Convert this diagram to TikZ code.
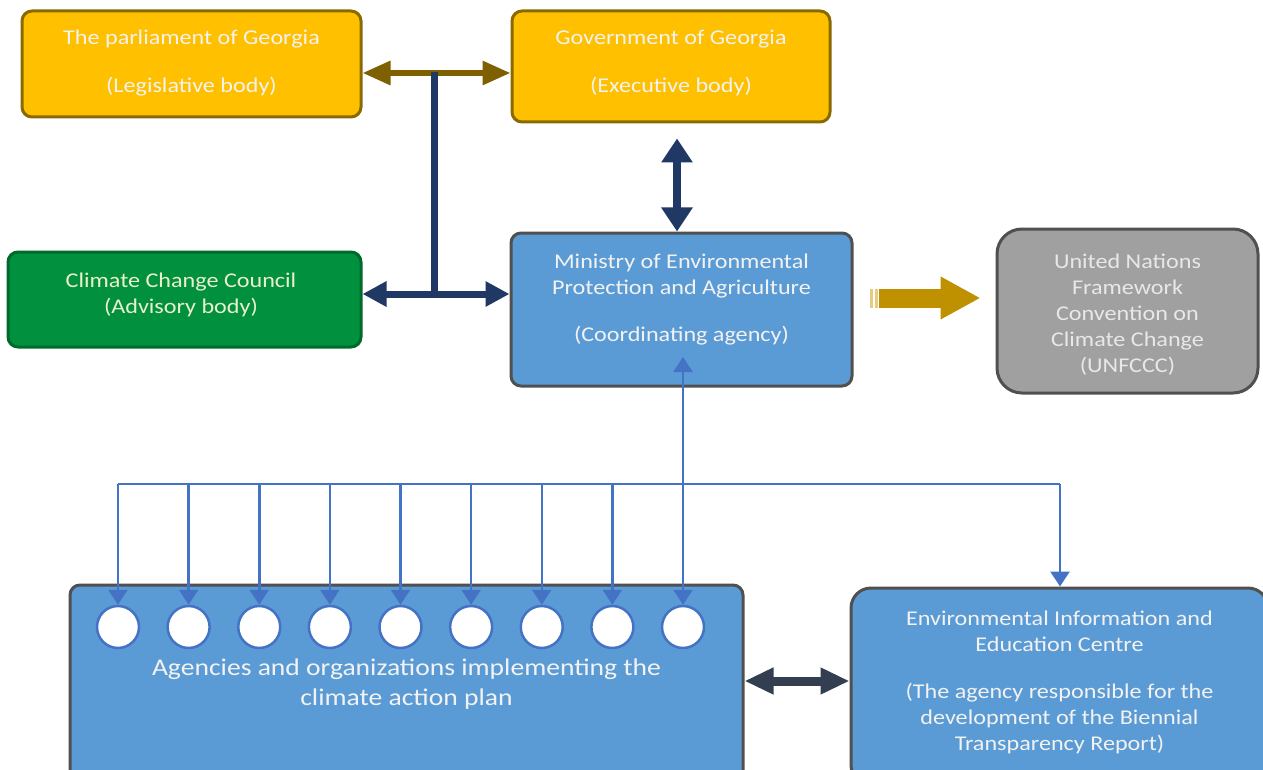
\documentclass[tikz,border=0pt]{standalone}
\usepackage{fontspec}
\setmainfont[FakeStretch=1.15]{Carlito}
\usetikzlibrary{arrows.meta,shapes.geometric}
\definecolor{ybg}{HTML}{FFC000}
\definecolor{ybd}{HTML}{8A6A00}
\definecolor{gbg}{HTML}{00903E}
\definecolor{gbd}{HTML}{006A2C}
\definecolor{bbg}{HTML}{5B9BD5}
\definecolor{bbd}{HTML}{505050}
\definecolor{grbg}{HTML}{A0A0A0}
\definecolor{brownc}{HTML}{7F6000}
\definecolor{navyc}{HTML}{203864}
\definecolor{linec}{HTML}{4472C4}
\definecolor{darkc}{HTML}{333F50}
\definecolor{goldc}{HTML}{BF9000}
\definecolor{goldl}{HTML}{E6CC80}
\definecolor{txtw}{HTML}{F2F2F2}
\definecolor{txtg}{HTML}{EAF0C8}
\definecolor{txtgr}{HTML}{E8E8E8}
\begin{document}
\begin{tikzpicture}[x=1pt,y=-1pt,
  boxbase/.style={rounded corners=10pt, line width=3pt, inner sep=0pt},
  yellowbox/.style={boxbase, fill=ybg, draw=ybd},
  greenbox/.style={boxbase, fill=gbg, draw=gbd},
  bluebox/.style={boxbase, fill=bbg, draw=bbd},
  graybox/.style={boxbase, rounded corners=25pt, fill=grbg, draw=bbd},
  txt/.style={align=center, inner sep=0pt, text=txtw, font=\fontsize{21}{26}\selectfont},
  bigtxt/.style={txt, font=\fontsize{24}{30}\selectfont},
  circ/.style={circle, minimum size=42pt, inner sep=0pt, fill=white, draw=linec, line width=2.5pt},
  brownarr/.style={draw=brownc, line width=6pt, {Triangle[length=28pt,width=23pt]}-{Triangle[length=28pt,width=23pt]}},
  navyline/.style={draw=navyc, line width=7pt},
  navyarr/.style={draw=navyc, line width=7pt, {Triangle[length=24pt,width=24pt]}-{Triangle[length=24pt,width=24pt]}},
  vnavyarr/.style={draw=navyc, line width=8pt, {Triangle[length=24pt,width=30pt]}-{Triangle[length=24pt,width=30pt]}},
  darkarr/.style={draw=darkc, line width=9pt, {Triangle[length=29pt,width=25pt]}-{Triangle[length=29pt,width=25pt]}},
  blueline/.style={draw=linec, line width=2.5pt},
  bluearr/.style={blueline, -{Triangle[length=15pt,width=19pt]}},
  goldarr/.style={draw=goldc, line width=19pt, -{Triangle[length=40pt,width=40pt]}}
]
\clip (0,0) rectangle (1263,770);
\fill[white] (0,0) rectangle (1263,770);

% boxes
\node[yellowbox, minimum width=339pt, minimum height=106pt] (parl) at (191.5,64) {};
\node[yellowbox, minimum width=318pt, minimum height=111pt] (gov) at (671,66.5) {};
\node[greenbox, minimum width=353pt, minimum height=95pt] (ccc) at (184.5,299.5) {};
\node[bluebox, minimum width=341pt, minimum height=153pt] (min) at (681.5,309.5) {};
\node[graybox, minimum width=261pt, minimum height=164pt] (un) at (1127.5,311) {};
\node[bluebox, minimum width=673pt, minimum height=200pt] (ag) at (406.5,685) {};
\node[bluebox, rounded corners=20pt, minimum width=417pt, minimum height=197pt] (eiec) at (1059.5,686.5) {};

% texts
\node[txt] (parl-t) at (191.5,63) {The parliament of Georgia\\[22pt](Legislative body)};
\node[txt] (gov-t) at (671,63) {Government of Georgia\\[22pt](Executive body)};
\node[txt, text=txtg] (ccc-t) at (181,295) {Climate Change Council\\(Advisory body)};
\node[txt] (min-t) at (681.5,299.5) {Ministry of Environmental\\Protection and Agriculture\\[21pt](Coordinating agency)};
\node[txt, text=txtgr] (un-t) at (1127.5,315) {United Nations\\Framework\\Convention on\\Climate Change\\(UNFCCC)};
\node[bigtxt] (ag-t) at (406.5,684) {Agencies and organizations implementing the\\climate action plan};
\node[txt] (eiec-t) at (1059.5,682) {Environmental Information and\\Education Centre\\[21pt](The agency responsible for the\\development of the Biennial\\Transparency Report)};

% circles
\foreach \i in {1,...,9} {
  \node[circ] (c\i) at ({118+(\i-1)*70.625},627) {};
  \coordinate (bus\i) at ({118+(\i-1)*70.625},484);
}

% top connectors
\draw[brownarr] ([yshift=-9pt]parl.east) -- ([yshift=-6.5pt]gov.west);
\coordinate (tTop) at (434,72);
\coordinate (tJoin) at (434,294);
\draw[navyline] (tTop) -- (tJoin);
\draw[navyarr] ([yshift=5.5pt]ccc.east) -- ([yshift=15.5pt]min.west);
\draw[vnavyarr] ([xshift=6pt,yshift=-15pt]gov.south) -- ([xshift=-4.5pt]min.north);

% gold arrow
\fill[goldl] ([xshift=16pt,yshift=2pt]min.east) rectangle ([xshift=19pt,yshift=21pt]min.east);
\fill[goldl] ([xshift=21pt,yshift=2pt]min.east) rectangle ([xshift=24pt,yshift=21pt]min.east);
\draw[goldarr] ([xshift=25pt,yshift=11.5pt]min.east) -- ([xshift=-15pt,yshift=13pt]un.west);

% blue distribution
\coordinate (busR) at (1060,484);
\coordinate (minTip) at (683,357);
\draw[blueline] (bus1) -- (busR);
\draw[bluearr] (bus9) -- (minTip);
\foreach \i in {1,...,9} {
  \draw[bluearr] (bus\i) -- (c\i.north);
}
\draw[bluearr] (busR) -- (eiec.north -| busR);

% bottom connector
\draw[darkarr] ([yshift=4pt]ag.east) -- ([yshift=5.5pt]eiec.west);
\end{tikzpicture}
\end{document}
